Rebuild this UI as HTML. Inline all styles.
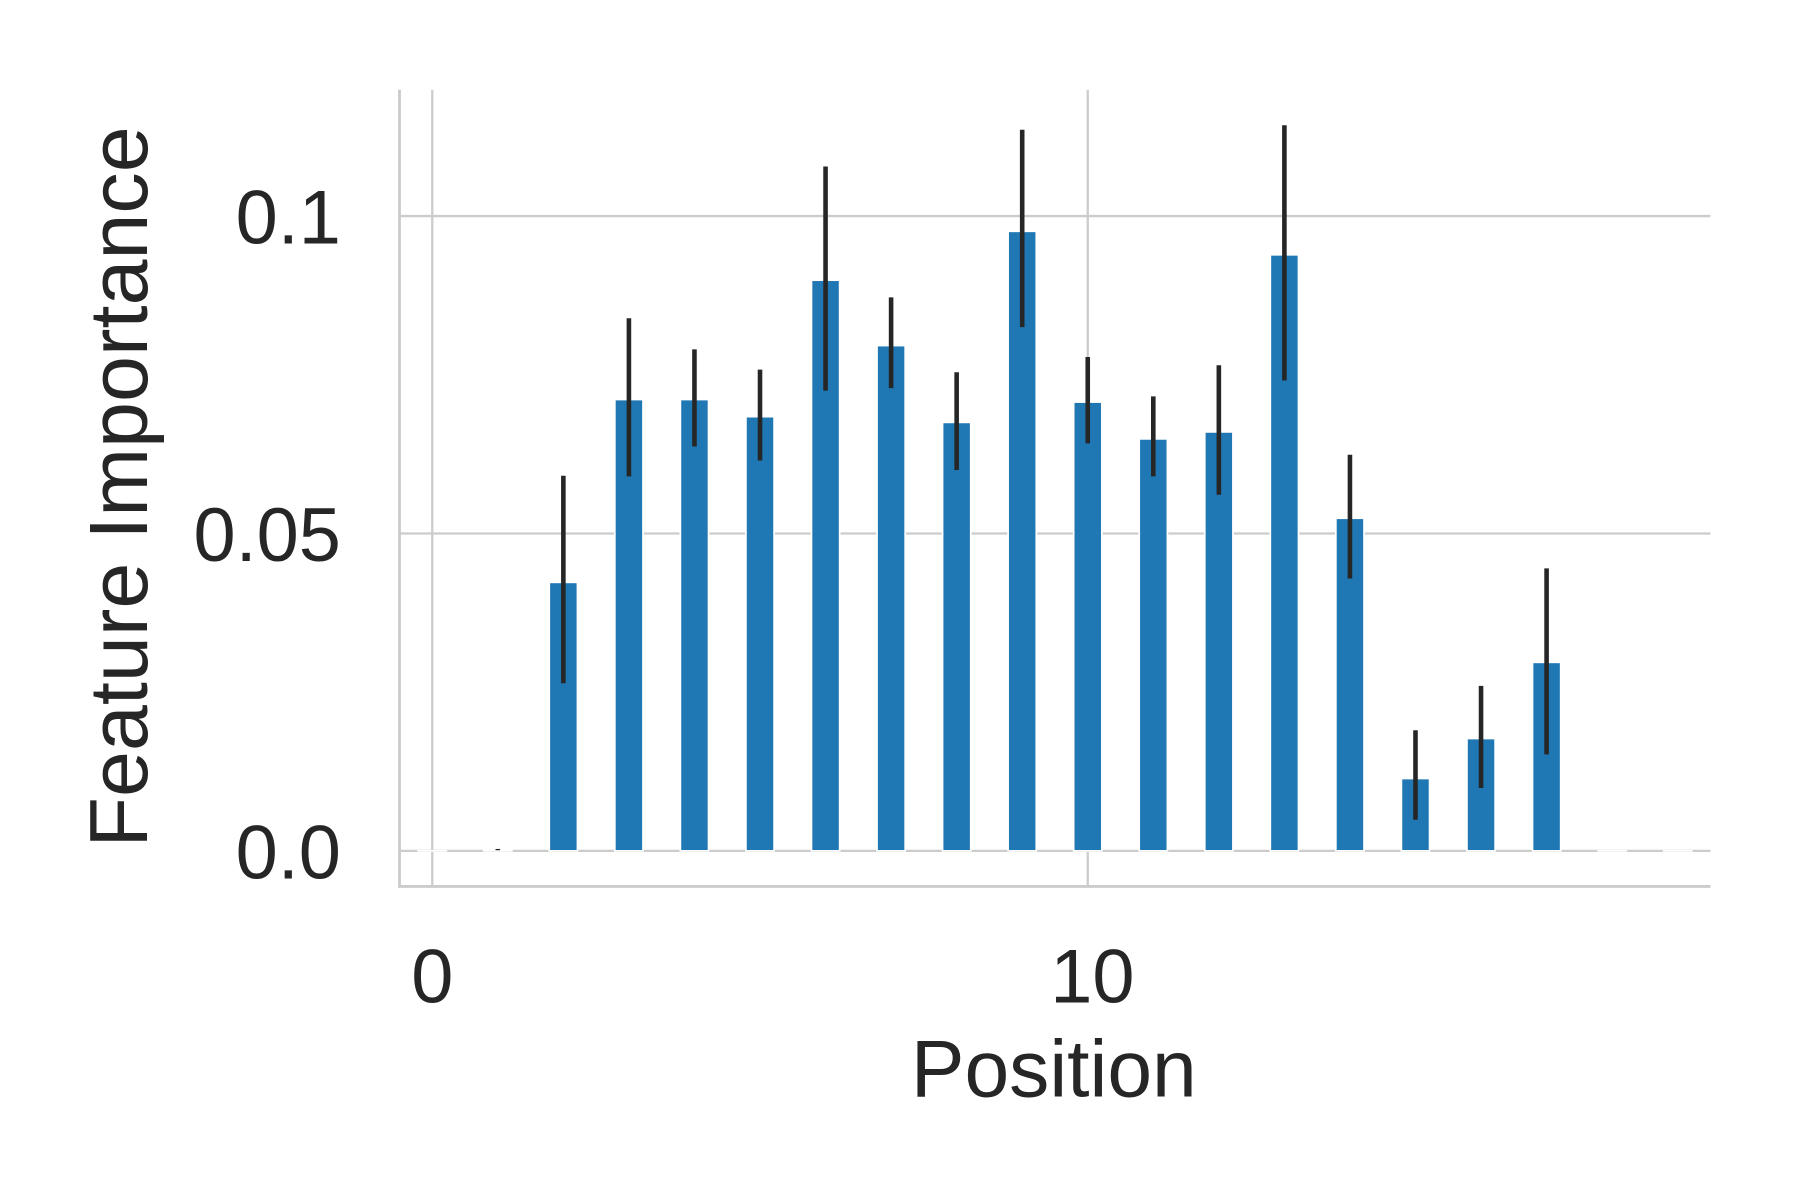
<!DOCTYPE html>
<html><head><meta charset="utf-8"><style>
html,body{margin:0;padding:0;background:#fff;}
svg{display:block;font-family:"Liberation Sans",Arial,sans-serif;}
</style></head><body>
<svg id="chart" width="1800" height="1200" viewBox="0 0 1568 1045" xmlns="http://www.w3.org/2000/svg">
<g id="grid"></g>
<g id="bars"></g>
<g id="errs"></g>
<g id="axes"></g>
</svg>
<script>
const positions = [0,1,2,3,4,5,6,7,8,9,10,11,12,13,14,15,16,17,18,19];
const importance = [0,0.0002,0.0423,0.0711,0.0711,0.0684,0.0899,0.0796,0.0675,0.0976,0.0707,0.0649,0.066,0.0939,0.0524,0.0114,0.0177,0.0297,0,0];
const errLow = [0,0.0001,0.0264,0.0590,0.0637,0.0615,0.0725,0.0729,0.0600,0.0825,0.0642,0.0590,0.0561,0.0741,0.0429,0.0049,0.0099,0.0152,0,0];
const errHigh = [0,0.0003,0.0591,0.0839,0.0790,0.0758,0.1078,0.0872,0.0754,0.1136,0.0778,0.0716,0.0765,0.1143,0.0624,0.0190,0.0260,0.0445,0,0];
const yTicks = [0, 0.05, 0.1];
const yTickLabels = ["0.0","0.05","0.1"];
const xTicks = [0, 10];
const xTickLabels = ["0","10"];

const NS="http://www.w3.org/2000/svg";
const L=348,R=1490,T=78,B=772;
const xmin=-0.5,xmax=19.5,ymin=-0.0056,ymax=0.1199;
const sx=v=>L+(v-xmin)/(xmax-xmin)*(R-L);
const sy=v=>B-(v-ymin)/(ymax-ymin)*(B-T);
function mk(tag,attrs,parent){const e=document.createElementNS(NS,tag);for(const k in attrs)e.setAttribute(k,attrs[k]);parent.appendChild(e);return e;}
const grid=document.getElementById('grid'),bars=document.getElementById('bars'),errs=document.getElementById('errs'),axes=document.getElementById('axes');

yTicks.forEach((t,i)=>{
  const g=mk('line',{x1:L,x2:R,y1:sy(t),y2:sy(t),stroke:'#cccccc','stroke-width':2},grid);
  
  
  const tx=mk('text',{x:297,y:sy(t)+24,'text-anchor':'end','font-size':66,fill:'#262626'},axes);
  tx.textContent=yTickLabels[i];
  
  
});
xTicks.forEach((t,i)=>{
  const g=mk('line',{x1:sx(t),x2:sx(t),y1:T,y2:B,stroke:'#cccccc','stroke-width':2},grid);
  
  
  const tx=mk('text',{x:sx(t)+(t===0?0:4),y:873,'text-anchor':'middle','font-size':66,fill:'#262626'},axes);
  tx.textContent=xTickLabels[i];
  
  
});
const bw=0.43;
positions.forEach((p,i)=>{
  const y0=sy(0),y1=sy(importance[i]);
  const r=mk('rect',{x:sx(p-bw/2),y:Math.min(y0,y1),width:sx(bw)-sx(0),height:Math.max(Math.abs(y0-y1),0.01),fill:'#1f77b4',stroke:'#ffffff','stroke-width':1.5},bars);
  
  
  if(errHigh[i]>errLow[i]){
    const e=mk('line',{x1:sx(p),x2:sx(p),y1:sy(errLow[i]),y2:sy(errHigh[i]),stroke:'#262626','stroke-width':4},errs);
    
    
  }
});
const sp=mk('path',{d:`M${L},${T} V${B} H${R}`,fill:'none',stroke:'#cccccc','stroke-width':2.5},axes);


const xl=mk('text',{x:918,y:955,'text-anchor':'middle','font-size':70,fill:'#262626'},axes);
xl.textContent='Position';


const yl=mk('text',{x:0,y:0,'text-anchor':'middle','font-size':72,fill:'#262626',transform:'translate(128,424) rotate(-90)'},axes);
yl.textContent='Feature Importance';


</script>
</body></html>
